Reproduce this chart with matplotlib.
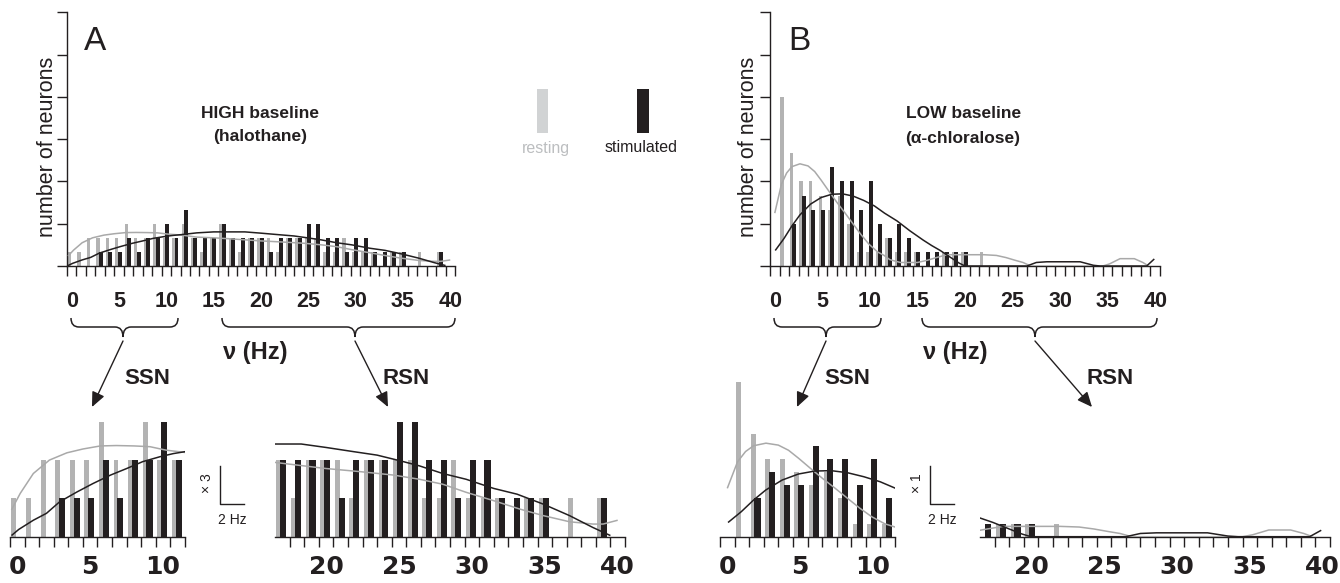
import numpy as np
import matplotlib
matplotlib.use("Agg")
import matplotlib.pyplot as plt
from matplotlib.path import Path
from matplotlib.patches import PathPatch, Rectangle

plt.rcParams['font.family'] = ['Liberation Sans', 'DejaVu Sans']

# ---------------- data (counts per 1-Hz bin, 0..40 Hz) ----------------
bins = np.arange(41)
a_rest = [1, 1, 2, 2, 2, 2, 3, 2, 2, 3, 2, 2, 3, 2, 1, 2, 3, 2, 1, 2, 2,
          2, 1, 2, 2, 2, 2, 1, 1, 2, 1, 1, 1, 0, 1, 1, 0, 1, 0, 1, 0]
a_stim = [0, 0, 0, 1, 1, 1, 2, 1, 2, 2, 3, 2, 4, 2, 2, 2, 3, 2, 2, 2, 2,
          1, 2, 2, 2, 3, 3, 2, 2, 1, 2, 2, 1, 1, 1, 1, 0, 0, 0, 1, 0]
b_rest = [0, 12, 8, 6, 6, 5, 4, 5, 3, 1, 1, 1, 2, 1, 1, 1, 0, 0, 1, 1, 1,
          0, 1, 0, 0, 0, 0, 0, 0, 0, 0, 0, 0, 0, 0, 0, 0, 0, 0, 0, 0]
b_stim = [0, 0, 3, 5, 4, 4, 7, 6, 6, 4, 6, 3, 2, 3, 2, 1, 1, 1, 1, 1, 1,
          0, 0, 0, 0, 0, 0, 0, 0, 0, 0, 0, 0, 0, 0, 0, 0, 0, 0, 0, 0]

# smoothed distributions
a_rest_fit_x = [0.1, 0.7, 1.6, 2.7, 3.9, 5.0, 6.2, 7.3, 8.5, 9.6, 10.7, 12.0, 13.7, 15.5,
                17.0, 18.3, 20.5, 22.8, 25.1, 26.9, 28.5, 30.1, 32.0, 33.8, 35.4, 37.2,
                38.8, 39.5, 40.5]
a_rest_fit_y = [0.7, 1.13, 1.65, 2.0, 2.19, 2.29, 2.37, 2.38, 2.37, 2.35, 2.26, 2.2, 2.05, 2.0,
                1.94, 1.88, 1.78, 1.7, 1.61, 1.5, 1.37, 1.16, 0.94, 0.72, 0.55, 0.39,
                0.33, 0.33, 0.43]
a_stim_fit_x = [0.1, 0.6, 1.6, 2.5, 3.4, 4.6, 5.7, 6.9, 8.0, 9.1, 10.3, 11.2, 12.0, 13.7,
                15.5, 17.0, 18.8, 20.5, 22.4, 24.0, 25.6, 26.9, 28.5, 30.1, 32.0, 33.6,
                35.4, 37.2, 38.8, 40.0]
a_stim_fit_y = [0.03, 0.19, 0.43, 0.61, 0.91, 1.17, 1.39, 1.61, 1.78, 1.96, 2.09, 2.17, 2.22, 2.35,
                2.42, 2.42, 2.42, 2.33, 2.22, 2.13, 1.98, 1.85, 1.65, 1.5, 1.26, 1.11,
                0.85, 0.55, 0.24, 0.03]
b_rest_fit_x = [0.5, 1.2, 1.75, 2.3, 3.15, 4.0, 4.7, 5.4, 6.2, 7.05, 7.9, 8.75, 9.6, 10.4,
                11.3, 12.0, 12.6, 13.7, 15.5, 16.5, 17.5, 18.6, 22.5, 23.8, 24.8, 25.8,
                26.6, 27.4, 35.0, 35.7, 36.8, 38.3, 39.2, 39.8]
b_rest_fit_y = [3.75, 5.8, 6.6, 7.05, 7.25, 7.1, 6.7, 6.07, 5.3, 4.5, 3.75, 2.97, 2.2, 1.55,
                1.0, 0.75, 0.45, 0.25, 0.25, 0.4, 0.6, 0.8, 0.8, 0.75, 0.6, 0.4,
                0.25, 0.0, 0.0, 0.15, 0.52, 0.52, 0.25, 0.0]
b_stim_fit_x = [0.55, 1.46, 2.3, 3.14, 4.26, 5.38, 6.5, 7.62, 8.74, 9.86, 10.98, 12.04, 13.35,
                14.7, 16.1, 17.0, 17.9, 19.0, 19.9, 20.5, 27.0, 28.0, 29.1, 32.6, 34.0,
                34.7, 39.6, 40.4]
b_stim_fit_y = [1.1, 1.94, 2.84, 3.62, 4.39, 4.86, 5.09, 5.12, 4.96, 4.65, 4.26, 3.75, 3.2,
                2.5, 1.84, 1.45, 1.1, 0.6, 0.2, 0.0, 0.0, 0.25, 0.3, 0.3, 0.05,
                0.0, 0.0, 0.5]

top_ticklabels = [0, 5, 10, 15, 20, 25, 30, 35, 40]
ssn_ticklabels = [0, 5, 10]
rsn_ticklabels = [20, 25, 30, 35, 40]

# ---------------- styling ----------------
W, H = 1340, 583
GRAY = '#b3b3b3'
BLACK = '#231f20'
CGRAY = '#a9a9a9'
LEGGRAY = '#d1d3d4'

fig = plt.figure(figsize=(W / 100, H / 100), dpi=100)

ov = fig.add_axes([0, 0, 1, 1])
ov.set_xlim(0, W)
ov.set_ylim(H, 0)
ov.axis('off')


def ax_px(l, r, t, b):
    a = fig.add_axes([l / W, 1 - b / H, (r - l) / W, (b - t) / H])
    a.patch.set_alpha(0)
    return a


def draw_hist(ax, rest, stim, fxr, fyr, fxs, fys):
    ax.bar(bins + 0.10, rest, width=0.34, align='edge', color=GRAY, lw=0, zorder=2)
    ax.bar(bins + 0.36, stim, width=0.42, align='edge', color=BLACK, lw=0, zorder=3)
    ax.plot(fxr, fyr, color=CGRAY, lw=1.1, zorder=4, solid_capstyle='butt')
    ax.plot(fxs, fys, color=BLACK, lw=1.1, zorder=5, solid_capstyle='butt')


def style_top(ax):
    ax.set_xlim(0, 41)
    ax.set_ylim(0, 18)
    for s in ['top', 'right']:
        ax.spines[s].set_visible(False)
    for s in ['left', 'bottom']:
        ax.spines[s].set_linewidth(1.0)
        ax.spines[s].set_color(BLACK)
    ax.set_xticks(np.arange(0, 42))
    ax.set_xticklabels([])
    ax.set_yticks(np.arange(0, 19, 3))
    ax.set_yticklabels([])
    ax.tick_params(which='major', direction='out', length=7, width=1, color=BLACK)
    ax.set_xticks([v + 0.5 for v in top_ticklabels], [str(v) for v in top_ticklabels], minor=True)
    ax.tick_params(which='minor', length=0, pad=18, labelsize=15.5, labelcolor=BLACK)
    for t in ax.get_xticklabels(minor=True):
        t.set_fontweight('bold')


def style_bottom(ax, xmin, xmax, ymax, tickstart, labels):
    ax.set_xlim(xmin, xmax)
    ax.set_ylim(0, ymax)
    for s in ['top', 'right', 'left']:
        ax.spines[s].set_visible(False)
    ax.spines['bottom'].set_linewidth(1.0)
    ax.spines['bottom'].set_color(BLACK)
    ax.set_yticks([])
    ax.set_xticks(np.arange(tickstart, xmax + 1))
    ax.set_xticklabels([])
    ax.tick_params(which='major', direction='out', length=7, width=1, color=BLACK)
    ax.set_xticks([v + 0.5 for v in labels], [str(v) for v in labels], minor=True)
    ax.tick_params(which='minor', length=0, pad=13, labelsize=18, labelcolor=BLACK)
    for t in ax.get_xticklabels(minor=True):
        t.set_fontweight('bold')
        t.set_fontfamily('DejaVu Sans')


# ---------------- top panels ----------------
axA = ax_px(67, 455, 12.3, 266)
draw_hist(axA, a_rest, a_stim, a_rest_fit_x, a_rest_fit_y, a_stim_fit_x, a_stim_fit_y)
style_top(axA)

axB = ax_px(770, 1160, 12.3, 266)
draw_hist(axB, b_rest, b_stim, b_rest_fit_x, b_rest_fit_y, b_stim_fit_x, b_stim_fit_y)
style_top(axB)

# ---------------- bottom panels ----------------
A_PX = 38.3   # px per neuron (x3 panels)
B_PX = 12.9   # px per neuron (x1 panels)
base = 536.7

axA1 = ax_px(10, 185, base - 4.0 * A_PX, base)
draw_hist(axA1, a_rest, a_stim, a_rest_fit_x, a_rest_fit_y, a_stim_fit_x, a_stim_fit_y)
style_bottom(axA1, 0, 12, 4.0, 0, ssn_ticklabels)

axA2 = ax_px(275, 625, base - 4.0 * A_PX, base)
draw_hist(axA2, a_rest, a_stim, a_rest_fit_x, a_rest_fit_y, a_stim_fit_x, a_stim_fit_y)
style_bottom(axA2, 17, 41, 4.0, 18, rsn_ticklabels)

axB1 = ax_px(720, 895, base - 12.2 * B_PX, base)
draw_hist(axB1, b_rest, b_stim, b_rest_fit_x, b_rest_fit_y, b_stim_fit_x, b_stim_fit_y)
style_bottom(axB1, 0, 12, 12.2, 0, ssn_ticklabels)

axB2 = ax_px(980, 1330, base - 12.2 * B_PX, base)
draw_hist(axB2, b_rest, b_stim, b_rest_fit_x, b_rest_fit_y, b_stim_fit_x, b_stim_fit_y)
style_bottom(axB2, 17, 41, 12.2, 18, rsn_ticklabels)

# ---------------- annotations (pixel coordinates) ----------------
ov.text(95, 41, 'A', fontsize=24, ha='center', va='center', color=BLACK)
ov.text(799, 41, 'B', fontsize=24, ha='center', va='center', color=BLACK)

ov.text(260, 114, 'HIGH baseline', fontsize=12.5, fontweight='bold', ha='center', va='center', color=BLACK)
ov.text(260, 137, '(halothane)', fontsize=12.5, fontweight='bold', ha='center', va='center', color=BLACK)
ov.text(964, 114, 'LOW baseline', fontsize=12.5, fontweight='bold', ha='center', va='center', color=BLACK)
ov.text(963, 138, '(α-chloralose)', fontsize=12.5, fontweight='bold', ha='center', va='center', color=BLACK)

for xc in (48, 748):
    ov.text(xc, 147, 'number of neurons', fontsize=15.5, rotation=90, ha='center', va='center', color=BLACK)

# legend
ov.add_patch(Rectangle((537, 89), 11, 44, color=LEGGRAY, lw=0))
ov.add_patch(Rectangle((637, 89), 12, 44, color=BLACK, lw=0))
ov.text(546, 148, 'resting', fontsize=11.5, ha='center', va='center', color='#bcbec0')
ov.text(641, 148, 'stimulated', fontsize=11.5, ha='center', va='center', color=BLACK)

# axis title
ov.text(255, 352, 'ν (Hz)', fontsize=17, fontweight='bold', ha='center', va='center', color=BLACK)
ov.text(955, 352, 'ν (Hz)', fontsize=17, fontweight='bold', ha='center', va='center', color=BLACK)


def brace(x0, x1, xt, yt=318, ym=327, yb=337, r=8):
    verts = [(x0, yt), (x0, ym), (x0 + r, ym),
             (xt - r, ym),
             (xt, ym), (xt, yb),
             (xt, ym), (xt + r, ym),
             (x1 - r, ym),
             (x1, ym), (x1, yt)]
    codes = [Path.MOVETO, Path.CURVE3, Path.CURVE3,
             Path.LINETO,
             Path.CURVE3, Path.CURVE3,
             Path.CURVE3, Path.CURVE3,
             Path.LINETO,
             Path.CURVE3, Path.CURVE3]
    ov.add_patch(PathPatch(Path(verts, codes), fill=False, lw=1.1, edgecolor=BLACK))


brace(71, 178, 123)
brace(222, 455, 355)
brace(774, 881, 826)
brace(922, 1157, 1035)


def arrow(x0, y0, x1, y1):
    ov.annotate('', xy=(x1, y1), xytext=(x0, y0),
                arrowprops=dict(arrowstyle='-|>,head_length=0.9,head_width=0.4',
                                color=BLACK, lw=1.0, shrinkA=0, shrinkB=0))


arrow(123, 341, 92, 407)
arrow(355, 341, 388, 407)
arrow(826, 341, 797, 407)
arrow(1035, 341, 1092, 407)

for x, y, s in [(147, 378, 'SSN'), (406, 378, 'RSN'), (847, 378, 'SSN'), (1110, 378, 'RSN')]:
    ov.text(x, y, s, fontsize=16, fontweight='bold', ha='center', va='center', color=BLACK)

# scale bars
for x0, lab in [(220, '× 3'), (930, '× 1')]:
    ov.plot([x0, x0, x0 + 24], [466, 504, 504], color=BLACK, lw=1.0)
    ov.text(x0 - 13, 483, lab, fontsize=10, rotation=90, ha='center', va='center', color=BLACK)
    ov.text(x0 + 12, 520, '2 Hz', fontsize=10, ha='center', va='center', color=BLACK)

fig.savefig('out.png', dpi=100)
